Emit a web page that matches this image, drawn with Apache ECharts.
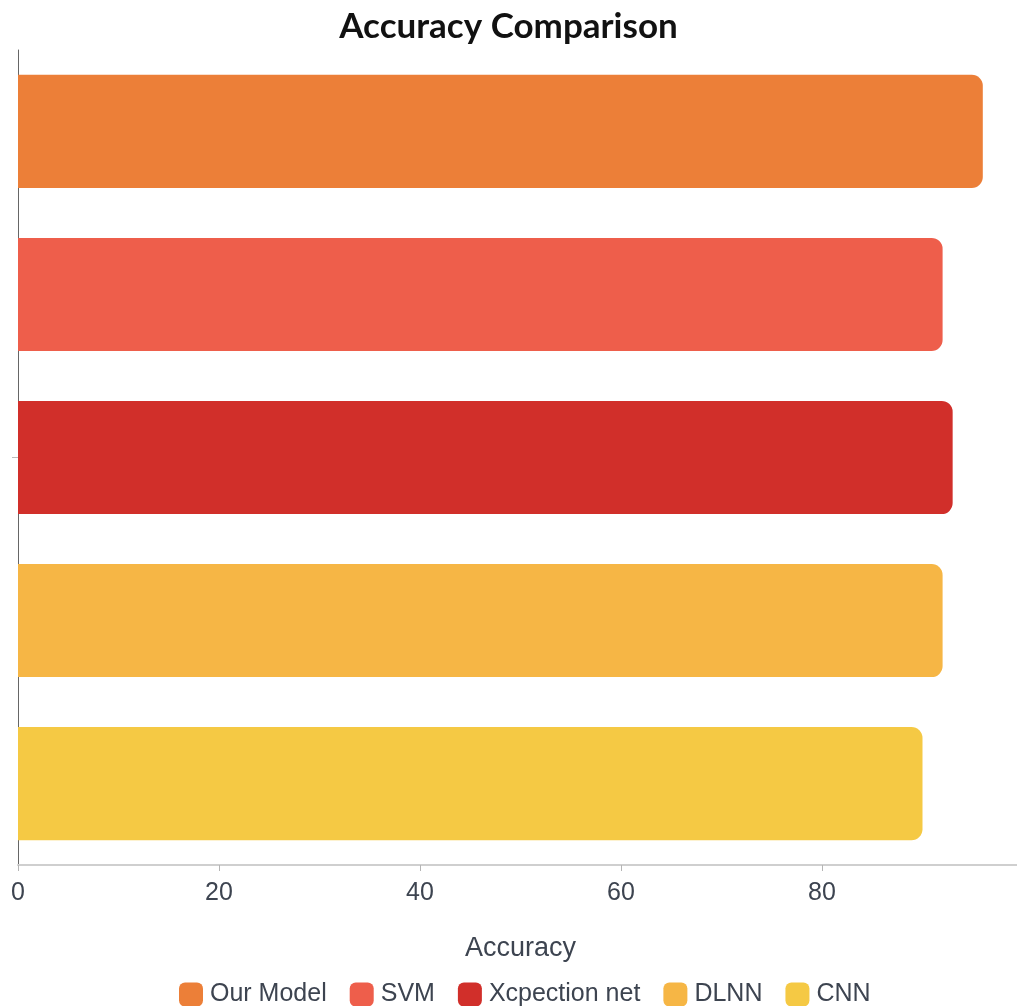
<!DOCTYPE html>
<html>
<head>
<meta charset="utf-8">
<script src="https://cdn.jsdelivr.net/npm/echarts@6/dist/echarts.min.js"></script>
<style>
  html, body { margin: 0; padding: 0; background: #fff; }
  #chart { width: 1017px; height: 1006px; }
</style>
</head>
<body>
<div id="chart"></div>
<script>
// Model names, their accuracy scores and bar colours
const models = ['Our Model', 'SVM', 'Xcpection net', 'DLNN', 'CNN'];
const accuracy = [96, 92, 93, 92, 90];
const colors = ['#EC7F38', '#EE5E4B', '#D12F2A', '#F6B645', '#F5C944'];
const category = [''];

const chart = echarts.init(document.getElementById('chart'));

const series = models.map((name, i) => ({
  name: name,
  type: 'bar',
  data: [accuracy[i]],
  itemStyle: { color: colors[i], borderRadius: [0, 11, 11, 0] },
  barGap: '44%',
  barCategoryGap: '6.1%'
}));

chart.setOption({
  animation: false,
  color: colors,
  title: {
    text: 'Accuracy Comparison',
    left: 'center',
    top: 4,
    textStyle: { fontFamily: 'Lato', fontWeight: 'bold', fontSize: 35, color: '#111' }
  },
  // the value axis runs slightly past the right edge so 100 falls just outside
  grid: { left: 18, width: 1005, top: 50, bottom: 141, outerBoundsMode: 'none', containLabel: false },
  xAxis: {
    type: 'value',
    min: 0,
    max: 100,
    interval: 20,
    name: 'Accuracy',
    nameLocation: 'middle',
    nameGap: 70,
    nameTextStyle: { fontFamily: 'Liberation Sans', fontSize: 27, color: '#3d4450' },
    axisLine: { show: true, lineStyle: { color: '#cfcfcf', width: 2 } },
    axisTick: { show: true, length: 6, lineStyle: { color: '#b5b5b5' } },
    axisLabel: { showMaxLabel: false, margin: 16, fontFamily: 'Liberation Sans', fontSize: 25, color: '#3d4450' },
    splitLine: { show: false }
  },
  yAxis: {
    type: 'category',
    data: category,
    inverse: true,
    axisLine: { show: true, lineStyle: { color: '#666', width: 1 } },
    axisTick: { show: true, alignWithLabel: true, length: 6, lineStyle: { color: '#bbb' } },
    axisLabel: { show: false }
  },
  legend: {
    bottom: -6,
    left: 174,
    icon: 'roundRect',
    itemWidth: 24,
    itemHeight: 24,
    itemGap: 23,
    textStyle: { fontFamily: 'Liberation Sans', fontSize: 25, color: '#3d4450', padding: [0, 0, 0, 2] },
    data: models
  },
  series: series
});
</script>
</body>
</html>
